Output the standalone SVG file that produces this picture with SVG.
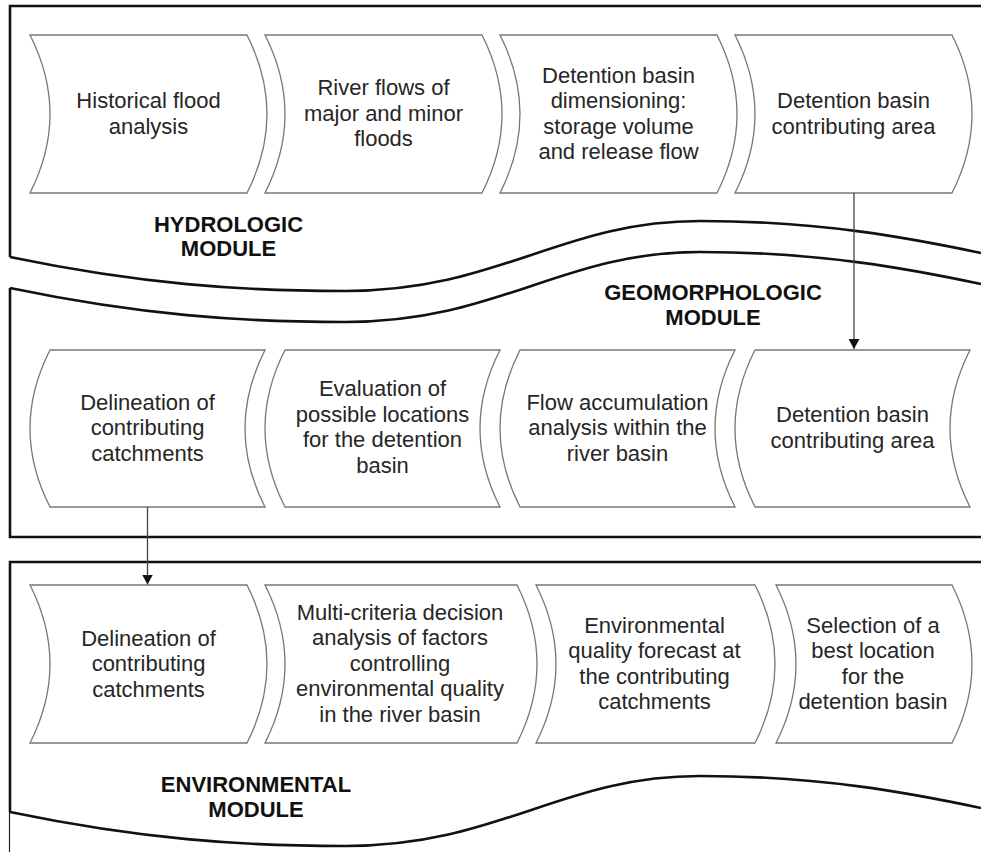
<svg xmlns="http://www.w3.org/2000/svg" width="981" height="852" viewBox="0 0 981 852">
  <style>
    .frame { fill: none; stroke: #111; stroke-width: 2.6; }
    .thin { fill: none; stroke: #222; stroke-width: 1.2; }
    .box { fill: #fff; stroke: #777; stroke-width: 1.3; }
    .label { font-family: "Liberation Sans", Arial, sans-serif; font-size: 22px; fill: #262626; text-anchor: middle; }
    .title { font-family: "Liberation Sans", Arial, sans-serif; font-size: 22px; font-weight: bold; fill: #111; text-anchor: middle; }
    .link { fill: none; stroke: #444; stroke-width: 1.3; }
  </style>
  <defs>
    <marker id="arrow" viewBox="0 0 10 11" refX="10" refY="5.5" markerWidth="10" markerHeight="11" markerUnits="userSpaceOnUse" orient="auto">
      <path d="M0,0 L10,5.5 L0,11 Z" fill="#111"/>
    </marker>
  </defs>
  <rect width="981" height="852" fill="#fff"/>

  <!-- Module frames -->
  <g id="frames">
    <!-- hydrologic module -->
    <path class="frame" d="M10,257 L10,6 L981,6"/>
    <path class="frame" d="M10,257 C140,284 240,291 345,291 C500,291 560,221 700,221 C820,221 910,238 981,253"/>
    <!-- geomorphologic module -->
    <path class="frame" d="M10,288 C140,315 240,322 345,322 C500,322 560,252 700,252 C820,252 910,269 981,284"/>
    <path class="frame" d="M10,288 L10,537 L981,537"/>
    <!-- environmental module -->
    <path class="frame" d="M981,562 L10,562 L10,812"/>
    <path class="frame" d="M10,812 C140,839 240,846 345,846 C500,846 560,776 700,776 C820,776 910,793 981,808"/>
    <path class="thin" d="M9.5,812 L9.5,852"/>
  </g>

  <!-- Module titles -->
  <g id="title-hydrologic">
    <text class="title" x="228.5" y="232">HYDROLOGIC</text>
    <text class="title" x="228.5" y="256">MODULE</text>
  </g>
  <g id="title-geomorphologic">
    <text class="title" x="713" y="300">GEOMORPHOLOGIC</text>
    <text class="title" x="713" y="325">MODULE</text>
  </g>
  <g id="title-environmental">
    <text class="title" x="256" y="792">ENVIRONMENTAL</text>
    <text class="title" x="256" y="817">MODULE</text>
  </g>

  <!-- Hydrologic row -->
  <g id="h1">
    <path class="box" d="M30,35 L247,35 Q287,114 247,193 L30,193 Q70,114 30,35 Z"/>
    <text class="label" x="148.5" y="108">Historical flood</text>
    <text class="label" x="148.5" y="133.5">analysis</text>
  </g>
  <g id="h2">
    <path class="box" d="M265,35 L482,35 Q522,114 482,193 L265,193 Q305,114 265,35 Z"/>
    <text class="label" x="383.5" y="95">River flows of</text>
    <text class="label" x="383.5" y="120.5">major and minor</text>
    <text class="label" x="383.5" y="146">floods</text>
  </g>
  <g id="h3">
    <path class="box" d="M500,35 L717,35 Q757,114 717,193 L500,193 Q540,114 500,35 Z"/>
    <text class="label" x="618.5" y="82.5">Detention basin</text>
    <text class="label" x="618.5" y="108">dimensioning:</text>
    <text class="label" x="618.5" y="133.5">storage volume</text>
    <text class="label" x="618.5" y="159">and release flow</text>
  </g>
  <g id="h4">
    <path class="box" d="M735,35 L952,35 Q992,114 952,193 L735,193 Q775,114 735,35 Z"/>
    <text class="label" x="853.5" y="108">Detention basin</text>
    <text class="label" x="853.5" y="133.5">contributing area</text>
  </g>

  <!-- Geomorphologic row -->
  <g id="g1">
    <path class="box" d="M50,350 L265,350 Q225,428.5 265,507 L50,507 Q10,428.5 50,350 Z"/>
    <text class="label" x="147.5" y="409.5">Delineation of</text>
    <text class="label" x="147.5" y="435">contributing</text>
    <text class="label" x="147.5" y="460.5">catchments</text>
  </g>
  <g id="g2">
    <path class="box" d="M285,350 L500,350 Q460,428.5 500,507 L285,507 Q245,428.5 285,350 Z"/>
    <text class="label" x="382.5" y="396">Evaluation of</text>
    <text class="label" x="382.5" y="421.5">possible locations</text>
    <text class="label" x="382.5" y="447">for the detention</text>
    <text class="label" x="382.5" y="472.5">basin</text>
  </g>
  <g id="g3">
    <path class="box" d="M520,350 L735,350 Q695,428.5 735,507 L520,507 Q480,428.5 520,350 Z"/>
    <text class="label" x="617.5" y="409.5">Flow accumulation</text>
    <text class="label" x="617.5" y="435">analysis within the</text>
    <text class="label" x="617.5" y="460.5">river basin</text>
  </g>
  <g id="g4">
    <path class="box" d="M755,350 L970,350 Q930,428.5 970,507 L755,507 Q715,428.5 755,350 Z"/>
    <text class="label" x="852.5" y="422">Detention basin</text>
    <text class="label" x="852.5" y="447.5">contributing area</text>
  </g>

  <!-- Environmental row -->
  <g id="e1">
    <path class="box" d="M30,585 L247,585 Q287,664 247,743 L30,743 Q70,664 30,585 Z"/>
    <text class="label" x="148.5" y="645.5">Delineation of</text>
    <text class="label" x="148.5" y="671">contributing</text>
    <text class="label" x="148.5" y="696.5">catchments</text>
  </g>
  <g id="e2">
    <path class="box" d="M265,585 L517,585 Q557,664 517,743 L265,743 Q305,664 265,585 Z"/>
    <text class="label" x="400" y="619.5">Multi-criteria decision</text>
    <text class="label" x="400" y="645">analysis of factors</text>
    <text class="label" x="400" y="670.5">controlling</text>
    <text class="label" x="400" y="696">environmental quality</text>
    <text class="label" x="400" y="721.5">in the river basin</text>
  </g>
  <g id="e3">
    <path class="box" d="M536,585 L755,585 Q795,664 755,743 L536,743 Q576,664 536,585 Z"/>
    <text class="label" x="654.5" y="632.5">Environmental</text>
    <text class="label" x="654.5" y="658">quality forecast at</text>
    <text class="label" x="654.5" y="683.5">the contributing</text>
    <text class="label" x="654.5" y="709">catchments</text>
  </g>
  <g id="e4">
    <path class="box" d="M776,585 L952,585 Q992,664 952,743 L776,743 Q816,664 776,585 Z"/>
    <text class="label" x="873" y="632.5">Selection of a</text>
    <text class="label" x="873" y="658">best location</text>
    <text class="label" x="873" y="683.5">for the</text>
    <text class="label" x="873" y="709">detention basin</text>
  </g>

  <!-- Connectors -->
  <g id="connectors">
    <path class="link" d="M854,193 L854,349" marker-end="url(#arrow)"/>
    <path class="link" d="M147.5,507 L147.5,584.5" marker-end="url(#arrow)"/>
  </g>
</svg>
